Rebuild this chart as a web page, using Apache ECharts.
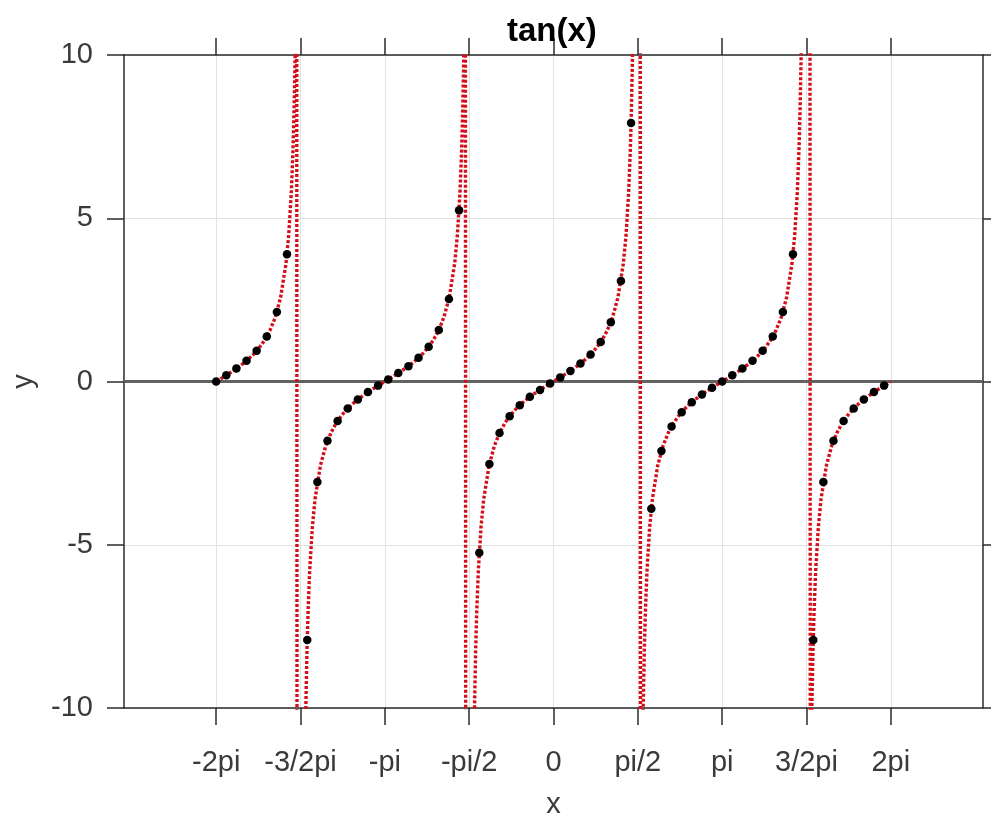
<!DOCTYPE html>
<html>
<head>
<meta charset="utf-8">
<script src="https://cdn.jsdelivr.net/npm/echarts@6/dist/echarts.min.js"></script>
<style>
html,body{margin:0;padding:0;background:#fff;}
#chart{width:991px;height:816px;}
</style>
</head>
<body>
<div id="chart"></div>
<script>
// ---- data ----
var titleText = 'tan(x)';
var xName = 'x';
var yName = 'y';
var xRange = [-8, 8];
var yRange = [-10, 10];
var yTickStep = 5;
// x tick positions in multiples of pi, and their labels
var xTickPiMultiples = [-2, -1.5, -1, -0.5, 0, 0.5, 1, 1.5, 2];
var xTickLabels = ['-2pi', '-3/2pi', '-pi', '-pi/2', '0', 'pi/2', 'pi', '3/2pi', '2pi'];

// black sample markers
var dotX = [-6.2832,-6.0947,-5.9062,-5.7177,-5.5292,-5.3407,-5.1522,-4.9637,-4.7752,-4.5867,
  -4.3982,-4.2097,-4.0212,-3.8327,-3.6442,-3.4558,-3.2673,-3.0788,-2.8903,-2.7018,
  -2.5133,-2.3248,-2.1363,-1.9478,-1.7593,-1.3823,-1.1938,-1.0053,-0.8168,-0.6283,
  -0.4398,-0.2513,-0.0628,0.1257,0.3142,0.5027,0.6912,0.8796,1.0681,1.2566,
  1.4451,1.6336,1.8221,2.0106,2.1991,2.3876,2.5761,2.7646,2.9531,3.1416,
  3.3301,3.5186,3.7071,3.8956,4.0841,4.2726,4.4611,4.6496,4.8381,5.0265,
  5.2150,5.4035,5.5920,5.7805,5.9690,6.1575];
var dotY = [0,0.1908,0.3959,0.6346,0.9391,1.3764,2.1251,3.8947,15.895,-7.9158,
  -3.0777,-1.8165,-1.2088,-0.8273,-0.5498,-0.3249,-0.1263,0.0629,0.2568,0.4706,
  0.7265,1.0649,1.5757,2.5257,5.2422,-5.2422,-2.5257,-1.5757,-1.0649,-0.7265,
  -0.4706,-0.2568,-0.0629,0.1263,0.3249,0.5498,0.8273,1.2088,1.8165,3.0777,
  7.9158,-15.895,-3.8947,-2.1251,-1.3764,-0.9391,-0.6346,-0.3959,-0.1908,0,
  0.1908,0.3959,0.6346,0.9391,1.3764,2.1251,3.8947,15.895,-7.9158,-3.0777,
  -1.8165,-1.2088,-0.8273,-0.5498,-0.3249,-0.1263];

// red dotted curve
var curveX = [
  -6.2832,-6.1832,-6.0832,-5.9832,-5.8832,-5.7832,-5.6832,-5.5832,-5.4832,-5.3832,
  -5.2832,-5.1832,-5.0832,-4.9832,-4.9332,-4.8832,-4.8532,-4.8332,-4.8132,-4.7932,-4.7832,
  -4.7094,
  -4.6416,-4.6316,-4.6116,-4.5916,-4.5716,-4.5416,-4.4916,-4.4416,-4.3416,-4.2416,
  -4.1416,-4.0416,-3.9416,-3.8416,-3.7416,-3.6416,-3.5416,-3.4416,-3.3416,-3.2416,
  -3.1416,
  -3.0416,-2.9416,-2.8416,-2.7416,-2.6416,-2.5416,-2.4416,-2.3416,-2.2416,-2.1416,
  -2.0416,-1.9416,-1.8416,-1.7916,-1.7416,-1.7116,-1.6916,-1.6716,-1.6516,-1.6416,
  -1.5678,
  -1.5000,-1.4900,-1.4700,-1.4500,-1.4300,-1.4000,-1.3500,-1.3000,-1.2000,-1.1000,
  -1.0000,-0.9000,-0.8000,-0.7000,-0.6000,-0.5000,-0.4000,-0.3000,-0.2000,-0.1000,
  0,
  0.1000,0.2000,0.3000,0.4000,0.5000,0.6000,0.7000,0.8000,0.9000,1.0000,
  1.1000,1.2000,1.3000,1.3500,1.4000,1.4300,1.4500,1.4700,1.4900,1.5000,1.5200,
  1.5678,
  1.6208,1.6416,1.6516,1.6716,1.6916,1.7116,1.7416,1.7916,1.8416,1.9416,2.0416,
  2.1416,2.2416,2.3416,2.4416,2.5416,2.6416,2.7416,2.8416,2.9416,3.0416,
  3.1416,
  3.2416,3.3416,3.4416,3.5416,3.6416,3.7416,3.8416,3.9416,4.0416,4.1416,
  4.2416,4.3416,4.4416,4.4916,4.5416,4.5716,4.5916,4.6116,4.6316,4.6416,4.6616,
  4.7094,
  4.7832,4.7932,4.8132,4.8332,4.8532,4.8832,4.9332,4.9832,5.0832,5.1832,
  5.2832,5.3832,5.4832,5.5832,5.6832,5.7832,5.8832,5.9832,6.0832,6.1832,
  6.2832];
var curveY = [
  0,0.1003,0.2027,0.3093,0.4228,0.5463,0.6841,0.8423,1.0296,1.2602,
  1.5574,1.9648,2.5722,3.6021,4.4552,5.7979,7.056,8.238,9.887,12.35,14.10,
  -300,
  -14.10,-12.35,-9.887,-8.238,-7.056,-5.7979,-4.4552,-3.6021,-2.5722,-1.9648,
  -1.5574,-1.2602,-1.0296,-0.8423,-0.6841,-0.5463,-0.4228,-0.3093,-0.2027,-0.1003,
  0,
  0.1003,0.2027,0.3093,0.4228,0.5463,0.6841,0.8423,1.0296,1.2602,1.5574,
  1.9648,2.5722,3.6021,4.4552,5.7979,7.056,8.238,9.887,12.35,14.10,
  -300,
  -14.10,-12.35,-9.887,-8.238,-7.056,-5.7979,-4.4552,-3.6021,-2.5722,-1.9648,
  -1.5574,-1.2602,-1.0296,-0.8423,-0.6841,-0.5463,-0.4228,-0.3093,-0.2027,-0.1003,
  0,
  0.1003,0.2027,0.3093,0.4228,0.5463,0.6841,0.8423,1.0296,1.2602,1.5574,
  1.9648,2.5722,3.6021,4.4552,5.7979,7.056,8.238,9.887,12.35,14.10,19.67,
  300,
  -19.98,-14.10,-12.35,-9.887,-8.238,-7.056,-5.7979,-4.4552,-3.6021,-2.5722,-1.9648,
  -1.5574,-1.2602,-1.0296,-0.8423,-0.6841,-0.5463,-0.4228,-0.3093,-0.2027,-0.1003,
  0,
  0.1003,0.2027,0.3093,0.4228,0.5463,0.6841,0.8423,1.0296,1.2602,1.5574,
  1.9648,2.5722,3.6021,4.4552,5.7979,7.056,8.238,9.887,12.35,14.10,19.67,
  300,
  -14.10,-12.35,-9.887,-8.238,-7.056,-5.7979,-4.4552,-3.6021,-2.5722,-1.9648,
  -1.5574,-1.2602,-1.0296,-0.8423,-0.6841,-0.5463,-0.4228,-0.3093,-0.2027,-0.1003,
  0];

// horizontal reference line at y = 0
var zeroLineX = [-8, 8];
var zeroLineY = [0, 0];

// ---- build chart ----
var FONT = '"Liberation Sans", Arial, Helvetica, sans-serif';
var AX = '#2b2b2b';
var xTickValues = xTickPiMultiples.map(function (m) { return m * Math.PI; });
function xLabel(v) {
  for (var i = 0; i < xTickValues.length; i++) {
    if (Math.abs(xTickValues[i] - v) < 1e-6) return xTickLabels[i];
  }
  return '';
}
function zip(a, b) { return a.map(function (v, i) { return [v, b[i]]; }); }

var chart = echarts.init(document.getElementById('chart'), null, {renderer: 'canvas'});
var baseX = {
  type: 'value', min: xRange[0], max: xRange[1],
  axisLine: {show: true, onZero: false, lineStyle: {color: AX, width: 1.5}},
  axisTick: {show: true, inside: false, length: 17, customValues: xTickValues, lineStyle: {color: AX, width: 1.5}},
  splitLine: {show: false}
};
var option = {
  animation: false,
  backgroundColor: '#ffffff',
  textStyle: {fontFamily: FONT},
  title: {
    text: titleText, left: 507, top: 15, padding: 0,
    textStyle: {fontFamily: FONT, fontSize: 33, fontWeight: 'bold', color: '#000'}
  },
  grid: {left: 124, top: 55, right: 8, bottom: 108, containLabel: false, outerBoundsMode: 'none'},
  xAxis: [
    Object.assign({}, baseX, {
      position: 'bottom',
      name: xName, nameLocation: 'middle', nameGap: 82,
      nameTextStyle: {fontFamily: FONT, fontSize: 29, color: '#3a3a3a'},
      splitLine: {show: true, lineStyle: {color: '#e2e2e2', width: 1}},
      axisLabel: {show: true, customValues: xTickValues, formatter: xLabel, margin: 40,
        fontFamily: FONT, fontSize: 29, color: '#3a3a3a'}
    }),
    Object.assign({}, baseX, {
      position: 'top',
      axisLabel: {show: false}
    })
  ],
  yAxis: [
    {
      type: 'value', min: yRange[0], max: yRange[1], interval: yTickStep, position: 'left',
      name: yName, nameLocation: 'middle', nameGap: 86,
      nameTextStyle: {fontFamily: FONT, fontSize: 29, color: '#3a3a3a'},
      axisLine: {show: true, onZero: false, lineStyle: {color: AX, width: 1.5}},
      axisTick: {show: true, inside: false, length: 17, lineStyle: {color: AX, width: 1.5}},
      axisLabel: {show: true, margin: 31, fontFamily: FONT, fontSize: 29, color: '#3a3a3a'},
      splitLine: {show: true, lineStyle: {color: '#e2e2e2', width: 1}}
    },
    {
      type: 'value', min: yRange[0], max: yRange[1], interval: yTickStep, position: 'right',
      axisLine: {show: true, onZero: false, lineStyle: {color: AX, width: 1.5}},
      axisTick: {show: true, inside: false, length: 17, lineStyle: {color: AX, width: 1.5}},
      axisLabel: {show: false},
      splitLine: {show: false}
    }
  ],
  series: [
    {
      name: 'zero', type: 'line', xAxisIndex: 0, yAxisIndex: 0,
      data: zip(zeroLineX, zeroLineY), symbol: 'none', silent: true,
      lineStyle: {color: '#626262', width: 3}, z: 2
    },
    {
      name: 'tan', type: 'line', xAxisIndex: 0, yAxisIndex: 0,
      data: zip(curveX, curveY), symbol: 'none', clip: true, smooth: false,
      lineStyle: {color: '#d50f19', width: 3.4, type: [3, 2], cap: 'butt'}, z: 3
    },
    {
      name: 'samples', type: 'scatter', xAxisIndex: 0, yAxisIndex: 0,
      data: zip(dotX, dotY), symbol: 'circle', symbolSize: 8.5, clip: true,
      itemStyle: {color: '#000', opacity: 1}, z: 4
    }
  ]
};
chart.setOption(option);
</script>
</body>
</html>
